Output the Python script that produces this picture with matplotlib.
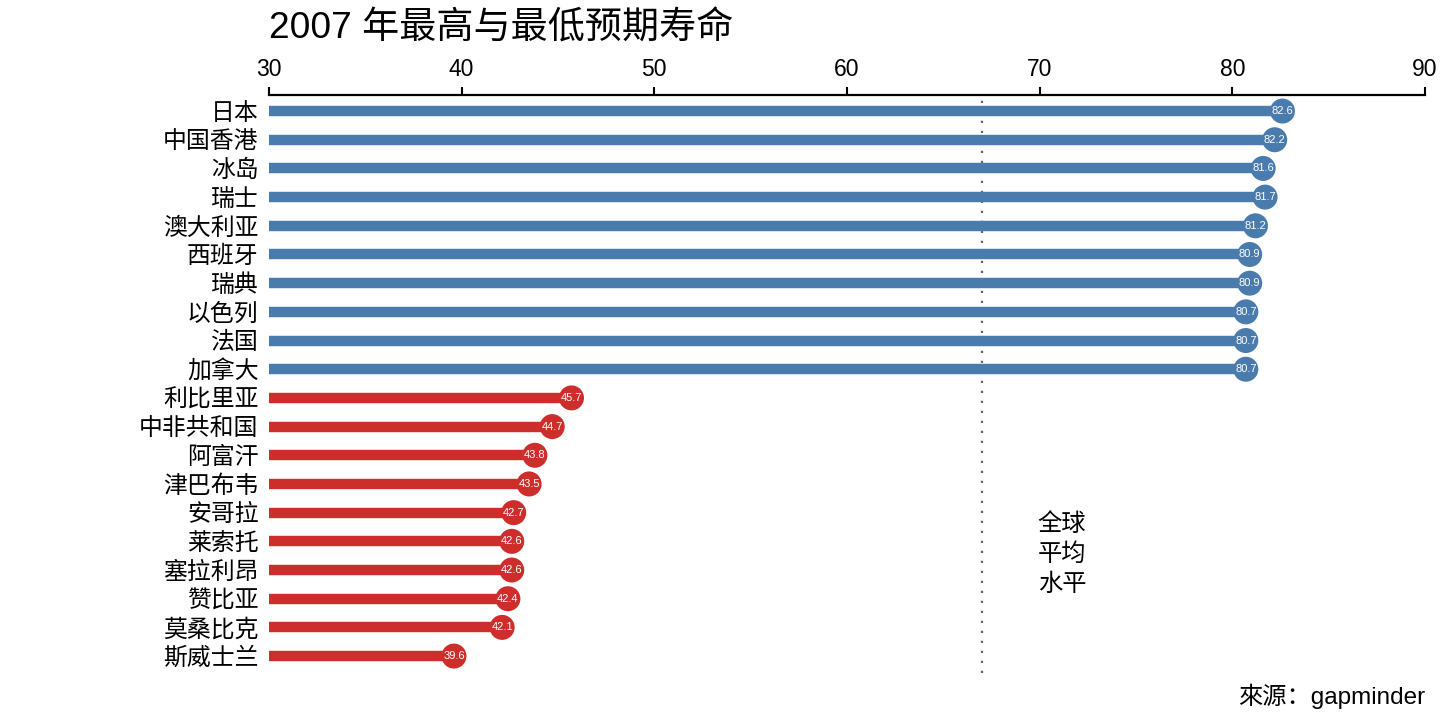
import matplotlib
matplotlib.use("Agg")
import matplotlib.pyplot as plt

plt.rcParams['font.family'] = ['Liberation Sans', 'Noto Sans CJK SC', 'DejaVu Sans']

countries = ["日本", "中国香港", "冰岛", "瑞士", "澳大利亚", "西班牙", "瑞典", "以色列", "法国", "加拿大",
             "利比里亚", "中非共和国", "阿富汗", "津巴布韦", "安哥拉", "莱索托", "塞拉利昂", "赞比亚", "莫桑比克", "斯威士兰"]
values = [82.6, 82.2, 81.6, 81.7, 81.2, 80.9, 80.9, 80.7, 80.7, 80.7,
          45.7, 44.7, 43.8, 43.5, 42.7, 42.6, 42.6, 42.4, 42.1, 39.6]
groups = ["high"] * 10 + ["low"] * 10
global_mean = 67.0
x_ticks = [30, 40, 50, 60, 70, 80, 90]

colors = {"high": "#4a7bad", "low": "#cd2e2b"}

fig = plt.figure(figsize=(14.4, 7.2), dpi=100)
ax = fig.add_axes([269/1440, 1-673/720, (1425-269)/1440, (673-95)/720])

ys = list(range(len(countries)))
cols = [colors[g] for g in groups]
ax.hlines(ys, 30, values, colors=cols, linewidth=7.5, capstyle='butt', zorder=2)
ax.scatter(values, ys, s=18**2, c=cols, zorder=3, linewidths=0)
for y, v in zip(ys, values):
    ax.text(v, y, f"{v:.1f}", color="white", fontsize=8, ha="center", va="center", zorder=4)

ax.axvline(global_mean, color="#666666", linestyle=(0, (1, 3.5)), linewidth=1.6, zorder=1)
ax.text(69.9, 15.45, "全球\n平均\n水平", fontsize=17.5, ha="left", va="center", linespacing=1.42)

ax.set_xlim(30, 90)
ax.set_ylim(19.59, -0.56)
ax.set_xticks(x_ticks)
ax.xaxis.tick_top()
ax.tick_params(axis='x', direction='out', length=6, width=1.5, labelsize=16.5, pad=4)
ax.set_yticks(ys)
ax.set_yticklabels(countries, fontsize=17.2)
ax.tick_params(axis='y', length=0, pad=7.5)
for s in ["bottom", "left", "right"]:
    ax.spines[s].set_visible(False)
ax.spines["top"].set_linewidth(1.6)

fig.text(269/1440, 1-29/720, "2007 年最高与最低预期寿命", fontsize=26.7, ha="left", va="center")
fig.text(1425/1440, 1-696/720, "來源：gapminder", fontsize=17.5, ha="right", va="center")

fig.savefig("out.png", dpi=100)
